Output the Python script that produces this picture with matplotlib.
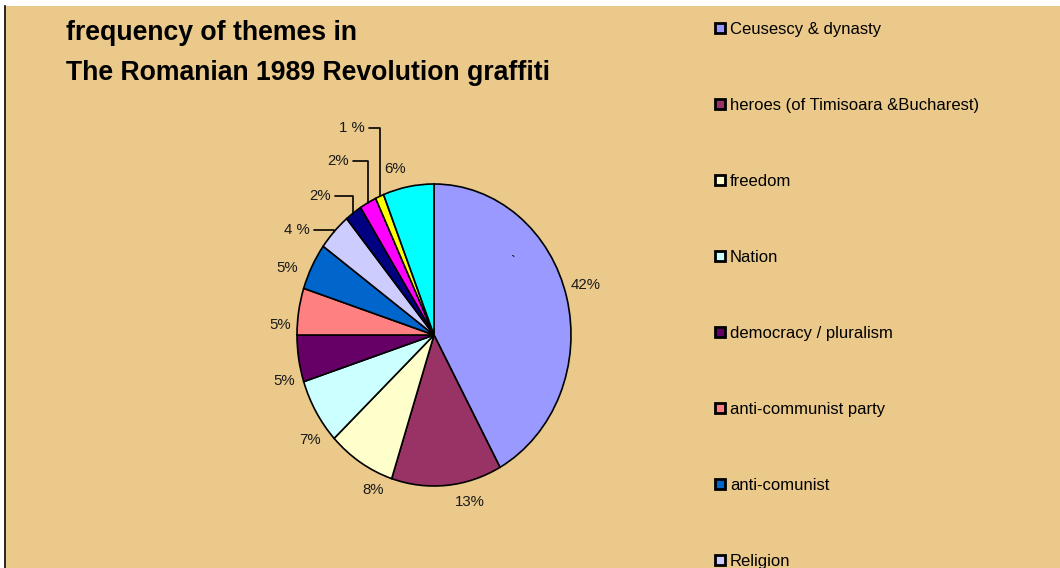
import numpy as np
import matplotlib.pyplot as plt
from matplotlib.patches import Rectangle, Patch
from matplotlib.lines import Line2D

plt.rcParams['font.family'] = ['Liberation Sans', 'DejaVu Sans']

# data
themes = ['Ceusescy & dynasty', 'heroes (of Timisoara &Bucharest)', 'freedom', 'Nation',
          'democracy / pluralism', 'anti-communist party', 'anti-comunist', 'Religion']
values = [42, 13, 8, 7, 5, 5, 5, 4, 2, 2, 1, 6]
pct_labels = ['42%', '13%', '8%', '7%', '5%', '5%', '5%', '4 %', '2%', '2%', '1 %', '6%']
colors = ['#9999FF', '#993366', '#FFFFCC', '#CCFFFF', '#660066', '#FF8080',
          '#0066CC', '#CCCCFF', '#000080', '#FF00FF', '#FFFF00', '#00FFFF']

bg = '#EAC98B'
W, H = 1060, 568

fig = plt.figure(figsize=(10.6, 5.68), dpi=100, facecolor='white')

def fx(px):
    return px / W

def fy(py):
    return 1 - py / H

# chart area + left border
fig.add_artist(Rectangle((fx(5.5), 0), 1 - fx(5.5), fy(5.5), transform=fig.transFigure,
                         facecolor=bg, edgecolor='none', zorder=0))
fig.add_artist(Line2D([fx(4.5), fx(4.5)], [0, fy(5.5)], transform=fig.transFigure,
                      color='black', lw=1.2, zorder=1))

# title
fig.text(fx(66), fy(40), 'frequency of themes in', fontsize=19.2, fontweight='bold', va='baseline')
fig.text(fx(66), fy(79.5), 'The Romanian 1989 Revolution graffiti', fontsize=19.2,
         fontweight='bold', va='baseline')

# pie (slightly taller than wide, like the original)
cx, cy, rx, ry = 434, 335, 137, 151
ax = fig.add_axes([fx(cx - 1.5 * rx), fy(cy + 1.5 * ry), 3 * rx / W, 3 * ry / H])
ax.patch.set_visible(False)
wedges, _ = ax.pie(values, colors=colors, startangle=90, counterclock=False,
                   wedgeprops=dict(edgecolor='black', linewidth=1.2))
ax.set_aspect('auto')
ax.set_xlim(-1.5, 1.5)
ax.set_ylim(-1.5, 1.5)

# label placement (pixel positions taken from the original layout)
label_pos = [(586, 285), (470, 502), (373, 490), (310, 440), (284, 381), (280, 325),
             (287, 268), (297, 230), (320, 196), (338, 161), (352, 128), (395, 169)]
leader = [False] * 7 + [True, True, True, True, False]

for w, lab, (px, py), ld in zip(wedges, pct_labels, label_pos, leader):
    tx, ty = (px - cx) / rx, (cy - py) / ry
    if ld:
        mid = np.deg2rad((w.theta1 + w.theta2) / 2)
        ax.annotate(lab, xy=(np.cos(mid), np.sin(mid)), xytext=(tx, ty),
                    ha='center', va='center', fontsize=10.8, color='#1a1a1a',
                    arrowprops=dict(arrowstyle='-', color='black', lw=1.2,
                                    connectionstyle='angle,angleA=0,angleB=90,rad=0',
                                    shrinkA=1, shrinkB=0))
    else:
        ax.text(tx, ty, lab, ha='center', va='center', fontsize=10.8, color='#1a1a1a')

ax.text((513 - cx) / rx, (cy - 262) / ry, '`', ha='center', va='center', fontsize=10)

# legend (only the first entries fit in the chart area)
handles = [Patch(facecolor=c, edgecolor='black', linewidth=2) for c in colors[:len(themes)]]
fig.legend(handles, themes, loc='upper left', bbox_to_anchor=(fx(715), fy(22)),
           frameon=False, fontsize=12, handlelength=0.6, handleheight=0.6,
           handletextpad=0.3, labelspacing=3.66, borderaxespad=0, borderpad=0)

fig.savefig('out.png', dpi=100, facecolor=fig.get_facecolor())
